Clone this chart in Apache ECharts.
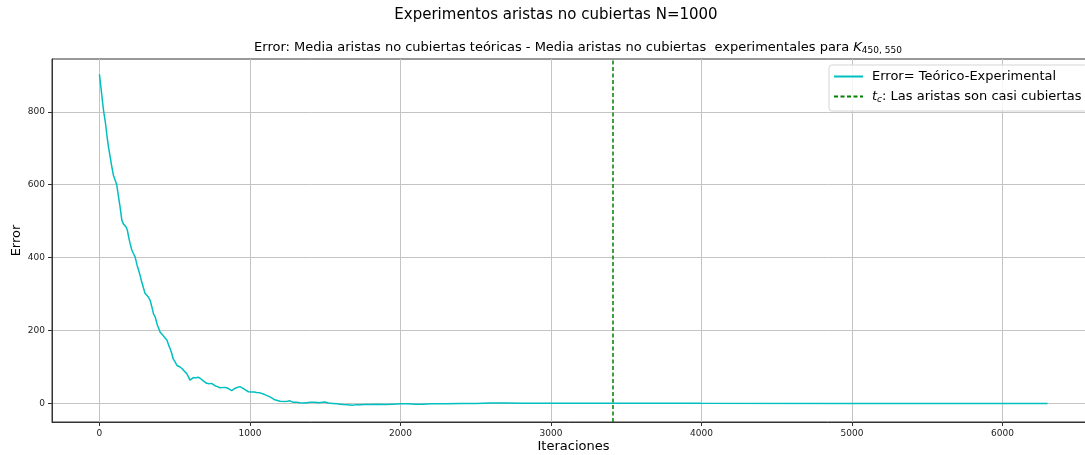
<!DOCTYPE html>
<html>
<head>
<meta charset="utf-8">
<title>Experimentos aristas no cubiertas N=1000</title>
<script src="https://cdn.jsdelivr.net/npm/echarts@6/dist/echarts.min.js"></script>
<style>
  html, body { margin: 0; padding: 0; background: #fff; }
  #chart { width: 1085px; height: 455px; }
</style>
</head>
<body>
<div id="chart"></div>
<script>
// Iteration index and error (theoretical - experimental uncovered edges)
const iterations = [
  0, 10, 20, 27, 40, 50, 60, 70, 80, 93, 105, 115, 125, 137, 149, 160, 177, 186, 195, 204,
  215, 225, 237, 250, 260, 270, 280, 292, 303, 315, 325, 337, 350, 360, 370, 385, 403, 420, 435, 448,
  460, 470, 481, 490, 503, 515, 525, 536, 550, 565, 580, 590, 602, 612, 624, 640, 655, 669, 680, 690,
  700, 713, 730, 745, 757, 770, 785, 800, 813, 830, 846, 860, 870, 879, 895, 910, 922, 934, 945, 960,
  975, 990, 1010, 1030, 1045, 1067, 1080, 1095, 1110, 1133, 1150, 1165, 1178, 1200, 1230, 1250, 1266, 1288, 1310, 1333,
  1360, 1380, 1400, 1430, 1460, 1480, 1498, 1520, 1550, 1580, 1600, 1620, 1650, 1680, 1700, 1730, 1760, 1800, 1850, 1900,
  1950, 2000, 2050, 2100, 2150, 2200, 2300, 2400, 2500, 2600, 2700, 2800, 3000, 3500, 4000, 5000, 6000, 6300
];
const errors = [
  903, 868, 830, 805, 770, 735, 704, 680, 655, 626, 612, 600, 572, 540, 503, 492, 484, 475, 455, 439,
  421, 412, 402, 380, 366, 352, 335, 318, 302, 300, 292, 283, 262, 245, 238, 215, 196, 188, 180, 174,
  160, 150, 137, 122, 114, 104, 100, 100, 95, 88, 82, 74, 64, 68, 71, 70, 72, 69, 66, 62,
  58, 55, 54, 55, 52, 48, 46, 43, 41, 44, 43, 40, 37, 35, 40, 43, 45, 46, 44, 40,
  36, 32, 31, 31, 30, 29, 27, 25, 22, 18, 14, 10, 6, 6, 5, 6, 7, 3, 3, 2,
  1, 2, 3, 3, 2, 3, 4, 1, 0, -1, -2, -3, -4, -5, -4, -4, -3, -3, -2, -3,
  -2, -1, -1, -2, -2, -1, -1, 0, 0, 1, 1, 0.5, 0.5, 0.3, 0.2, 0.1, 0, 0
];
// Iteration at which the edges are almost covered
const tcIteration = 3411;

const xTicks = [0, 1000, 2000, 3000, 4000, 5000, 6000];
const yTicks = [0, 200, 400, 600, 800];

const FONT = 'DejaVu Sans';
const chart = echarts.init(document.getElementById('chart'), null, { renderer: 'canvas' });

const errorData = iterations.map((it, i) => [it, errors[i]]);
const plainNumber = v => String(v);

chart.setOption({
  animation: false,
  backgroundColor: '#ffffff',
  textStyle: { fontFamily: FONT },
  title: [
    {
      text: 'Experimentos aristas no cubiertas N=1000',
      left: 556, top: 8, textAlign: 'center', padding: 0,
      textStyle: { fontFamily: FONT, fontSize: 15, fontWeight: 'normal', color: '#000' }
    },
    {
      text: '{n|Error: Media aristas no cubiertas teóricas - Media aristas no cubiertas  experimentales para }{k|K}{s|450, 550}',
      left: 578, top: 40, textAlign: 'center', padding: 0,
      textStyle: {
        fontFamily: FONT, fontSize: 13, fontWeight: 'normal', color: '#000',
        rich: {
          n: { fontFamily: FONT, fontSize: 13, color: '#000' },
          k: { fontFamily: FONT, fontSize: 13, fontStyle: 'italic', color: '#000' },
          s: { fontFamily: FONT, fontSize: 9, color: '#000', padding: [6, 0, 0, 0] }
        }
      }
    }
  ],
  legend: {
    orient: 'vertical',
    left: 829, top: 65,
    padding: [5, 6, 7, 4],
    itemWidth: 29, itemHeight: 13, itemGap: 7,
    backgroundColor: 'rgba(255,255,255,0.85)',
    borderColor: '#d5d5d5', borderWidth: 1, borderRadius: 3,
    itemStyle: { opacity: 0, color: 'transparent', borderColor: 'transparent', borderWidth: 0 },
    data: ['Error= Teórico-Experimental', 'tc'],
    formatter: function (name) {
      if (name === 'tc') return '{i|t}{s|c}{n|: Las aristas son casi cubiertas}';
      return '{n|' + name + '}';
    },
    textStyle: {
      fontFamily: FONT, fontSize: 13, color: '#000', padding: [0, 0, 0, 4],
      rich: {
        n: { fontFamily: FONT, fontSize: 13, color: '#000' },
        i: { fontFamily: FONT, fontSize: 13, fontStyle: 'italic', color: '#000' },
        s: { fontFamily: FONT, fontSize: 9, fontStyle: 'italic', color: '#000', padding: [6, 0, 0, 0] }
      }
    }
  },
  grid: {
    left: 52, top: 59, bottom: 33, right: -10,
    outerBoundsMode: 'none',
    show: true, borderColor: '#333', borderWidth: 1, backgroundColor: 'transparent',
    containLabel: false
  },
  xAxis: {
    type: 'value',
    min: -315, max: 6615,
    name: 'Iteraciones', nameLocation: 'middle', nameGap: 18, nameMoveOverlap: false,
    nameTextStyle: { fontFamily: FONT, fontSize: 13, color: '#000' },
    axisLine: { show: true, onZero: false, lineStyle: { color: '#333', width: 1 } },
    axisTick: { show: true, inside: false, length: 4, customValues: xTicks, lineStyle: { color: '#333' } },
    axisLabel: {
      customValues: xTicks, margin: 7, formatter: plainNumber,
      fontFamily: FONT, fontSize: 9, color: '#222'
    },
    splitLine: { show: true, lineStyle: { color: '#c4c4c4', width: 1 } }
  },
  yAxis: {
    type: 'value',
    min: -51, max: 945,
    name: 'Error', nameLocation: 'middle', nameGap: 29, nameRotate: 90, nameMoveOverlap: false,
    nameTextStyle: { fontFamily: FONT, fontSize: 13, color: '#000' },
    axisLine: { show: true, onZero: false, lineStyle: { color: '#333', width: 1 } },
    axisTick: { show: true, inside: false, length: 4, customValues: yTicks, lineStyle: { color: '#333' } },
    axisLabel: {
      customValues: yTicks, margin: 7, formatter: plainNumber,
      fontFamily: FONT, fontSize: 9, color: '#222'
    },
    splitLine: { show: true, lineStyle: { color: '#c4c4c4', width: 1 } }
  },
  series: [
    {
      name: 'Error= Teórico-Experimental',
      type: 'line',
      data: errorData,
      symbol: 'none',
      itemStyle: { color: '#00bfbf' },
      lineStyle: { color: '#00bfbf', width: 1.5 },
      z: 3
    },
    {
      name: 'tc',
      type: 'line',
      data: [],
      symbol: 'none',
      itemStyle: { color: '#008000' },
      lineStyle: { color: '#008000', width: 1.5, type: [4, 2.5] },
      markLine: {
        silent: true,
        symbol: ['none', 'none'],
        label: { show: false },
        lineStyle: { color: '#008000', width: 1.5, type: [4, 2.5] },
        emphasis: { disabled: true },
        data: [{ xAxis: tcIteration }]
      },
      z: 4
    }
  ]
});
</script>
</body>
</html>
